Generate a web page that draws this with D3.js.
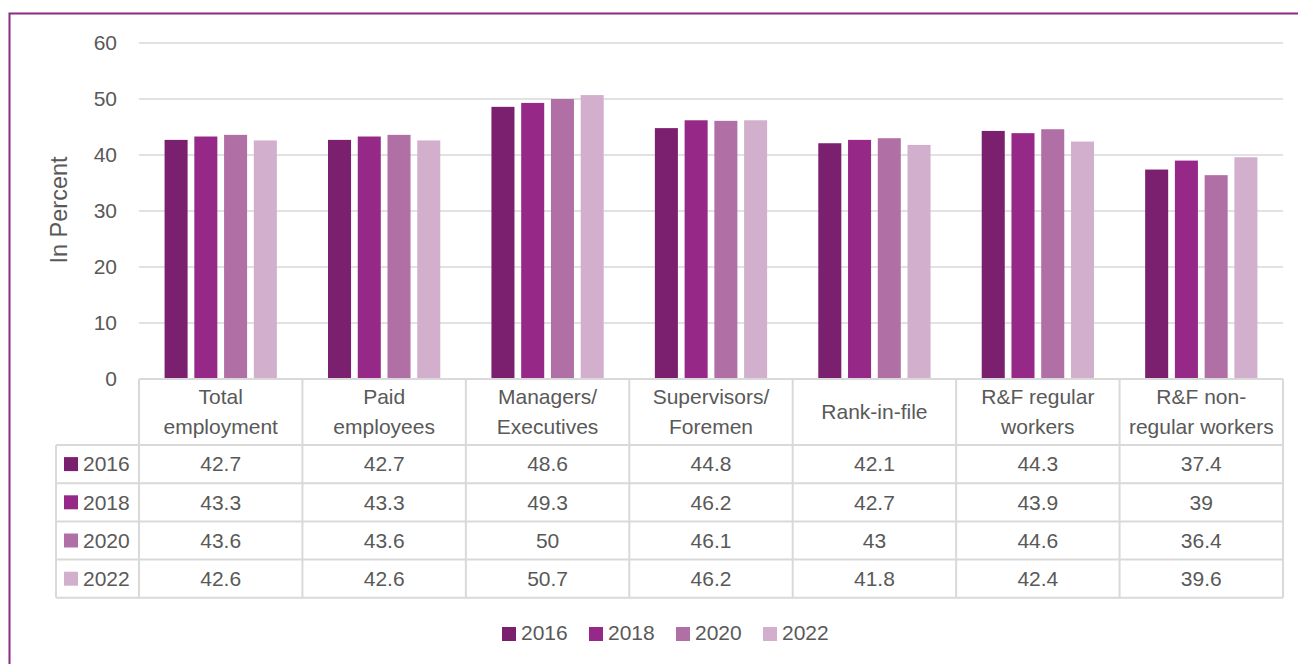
<!DOCTYPE html>
<html>
<head>
<meta charset="utf-8">
<script src="https://cdn.jsdelivr.net/npm/d3@7"></script>
<style>
  html, body { margin: 0; padding: 0; background: #fff; }
  svg { display: block; font-family: "Liberation Sans", Arial, sans-serif; }
</style>
</head>
<body>
<svg id="chart" width="1298" height="664"></svg>
<script>
// Share of women, by category of worker and survey year
const categories = [
  ["Total", "employment"],
  ["Paid", "employees"],
  ["Managers/", "Executives"],
  ["Supervisors/", "Foremen"],
  ["Rank-in-file"],
  ["R&F regular", "workers"],
  ["R&F non-", "regular workers"]
];
const years = ["2016", "2018", "2020", "2022"];
const values2016 = [42.7, 42.7, 48.6, 44.8, 42.1, 44.3, 37.4];
const values2018 = [43.3, 43.3, 49.3, 46.2, 42.7, 43.9, 39];
const values2020 = [43.6, 43.6, 50, 46.1, 43, 44.6, 36.4];
const values2022 = [42.6, 42.6, 50.7, 46.2, 41.8, 42.4, 39.6];
const yTicks = [0, 10, 20, 30, 40, 50, 60];
const yTitle = "In Percent";

const series = [values2016, values2018, values2020, values2022];
const colors = ["#7b1f6f", "#962887", "#b070a6", "#d2afcc"];

const svg = d3.select("#chart");
const textColor = "#595959";
const gridColor = "#d9d9d9";
const fs = "21px";

// Frame
svg.append("rect")
  .attr("x", 9.5).attr("y", 13.5)
  .attr("width", 1320).attr("height", 700)
  .attr("fill", "none")
  .attr("stroke", "#8b2a7f")
  .attr("stroke-width", 2);

const plotLeft = 139, plotRight = 1283;
const y = d3.scaleLinear().domain([0, 60]).range([379, 43]);
const catIdx = d3.range(categories.length);
const x0 = d3.scaleBand().domain(catIdx).range([plotLeft, plotRight]).padding(0);
const x1 = d3.scaleBand().domain(years).range([0, x0.bandwidth()])
  .paddingInner(0.226).paddingOuter(0.86);

// Gridlines
svg.append("g")
  .selectAll("line")
  .data(yTicks.filter(t => t > 0))
  .join("line")
  .attr("x1", plotLeft).attr("x2", plotRight)
  .attr("y1", d => y(d)).attr("y2", d => y(d))
  .attr("stroke", gridColor).attr("stroke-width", 1.5);

// Y axis labels
const yAxis = d3.axisLeft(y).tickValues(yTicks).tickSize(0).tickPadding(0);
const yg = svg.append("g").attr("transform", "translate(117,0)").call(yAxis);
yg.select(".domain").remove();
yg.selectAll("text")
  .attr("fill", textColor)
  .style("font-size", fs)
  .style("font-family", "Liberation Sans, Arial, sans-serif")
  .attr("dy", "0.33em");

svg.append("text")
  .attr("transform", "translate(59,210) rotate(-90)")
  .attr("text-anchor", "middle")
  .attr("dy", "0.35em")
  .attr("fill", textColor)
  .style("font-size", "23.5px")
  .text(yTitle);

// Bars
years.forEach((yr, si) => {
  svg.append("g")
    .selectAll("rect")
    .data(series[si])
    .join("rect")
    .attr("x", (d, i) => x0(i) + x1(yr))
    .attr("width", x1.bandwidth())
    .attr("y", d => y(d))
    .attr("height", d => y(0) - y(d))
    .attr("fill", colors[si]);
});

// Data table
const headerTop = 379, headerBottom = 445, rowH = 38.2;
const legendColLeft = 56;
const tableBottom = headerBottom + rowH * years.length;
const tg = svg.append("g");

// horizontal lines
tg.append("line")
  .attr("x1", plotLeft).attr("x2", plotRight)
  .attr("y1", headerTop).attr("y2", headerTop)
  .attr("stroke", gridColor).attr("stroke-width", 2);
d3.range(years.length + 1).forEach(r => {
  const yy = headerBottom + r * rowH;
  tg.append("line")
    .attr("x1", legendColLeft).attr("x2", plotRight)
    .attr("y1", yy).attr("y2", yy)
    .attr("stroke", gridColor).attr("stroke-width", 2);
});
// vertical lines
tg.append("line")
  .attr("x1", legendColLeft).attr("x2", legendColLeft)
  .attr("y1", headerBottom).attr("y2", tableBottom)
  .attr("stroke", gridColor).attr("stroke-width", 2);
d3.range(categories.length + 1).forEach(c => {
  const xx = c < categories.length ? x0(c) : plotRight;
  tg.append("line")
    .attr("x1", xx).attr("x2", xx)
    .attr("y1", headerTop).attr("y2", tableBottom)
    .attr("stroke", gridColor).attr("stroke-width", 2);
});

// header labels
categories.forEach((lines, i) => {
  const cx = x0(i) + x0.bandwidth() / 2;
  const mid = (headerTop + headerBottom) / 2;
  const lh = 30;
  lines.forEach((ln, k) => {
    tg.append("text")
      .attr("x", cx)
      .attr("y", mid + (k - (lines.length - 1) / 2) * lh)
      .attr("dy", "0.35em")
      .attr("text-anchor", "middle")
      .attr("fill", textColor)
      .style("font-size", fs)
      .text(ln);
  });
});

// rows
years.forEach((yr, r) => {
  const cy = headerBottom + r * rowH + rowH / 2;
  tg.append("rect")
    .attr("x", 64).attr("y", cy - 7)
    .attr("width", 14).attr("height", 14)
    .attr("fill", colors[r]);
  tg.append("text")
    .attr("x", 83).attr("y", cy).attr("dy", "0.35em")
    .attr("fill", textColor)
    .style("font-size", fs)
    .text(yr);
  series[r].forEach((v, i) => {
    tg.append("text")
      .attr("x", x0(i) + x0.bandwidth() / 2)
      .attr("y", cy).attr("dy", "0.35em")
      .attr("text-anchor", "middle")
      .attr("fill", textColor)
      .style("font-size", fs)
      .text(v);
  });
});

// Legend
const lg = svg.append("g");
years.forEach((yr, i) => {
  const lx = 502 + i * 87;
  lg.append("rect")
    .attr("x", lx).attr("y", 627)
    .attr("width", 14).attr("height", 14)
    .attr("fill", colors[i]);
  lg.append("text")
    .attr("x", lx + 19).attr("y", 633).attr("dy", "0.35em")
    .attr("fill", textColor)
    .style("font-size", fs)
    .text(yr);
});
</script>
</body>
</html>
